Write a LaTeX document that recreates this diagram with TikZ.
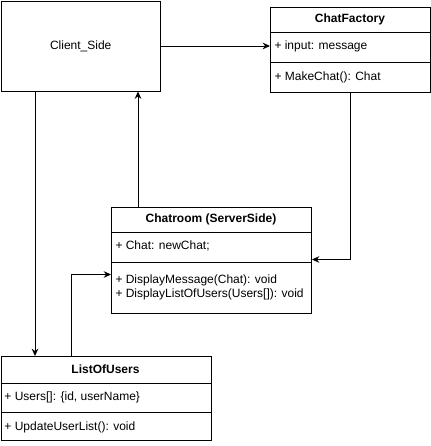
\documentclass[tikz,border=0pt]{standalone}
\usepackage{fontspec}
\setmainfont{Liberation Sans}
\usetikzlibrary{arrows.meta}
\begin{document}
\begin{tikzpicture}[x=0.75pt,y=-0.75pt,line width=0.75pt,
  box/.style={draw,rectangle,inner sep=0pt,anchor=north west},
  ttl/.style={font=\bfseries\fontsize{9}{11}\selectfont,inner sep=0pt},
  txt/.style={font=\fontsize{9}{11}\selectfont,anchor=west,inner sep=0pt,align=left},
  conn/.style={-{Stealth[length=5.5pt,width=5pt]}}]
\useasboundingbox (0,0) rectangle (431,446);
% Client side
\node[box,minimum width={159.5*0.75pt},minimum height={90*0.75pt}] (cs) at (0.5,0.5) {};
\node[font=\fontsize{9}{11}\selectfont,inner sep=0pt] (cst) at (cs.center) {Client\_Side};
% ChatFactory
\node[box,minimum width={160*0.75pt},minimum height={85*0.75pt}] (cf) at (270,7) {};
\draw (270,32) -- (430,32) (270,62) -- (430,62);
\node[ttl] (cft) at (350,19.5) {ChatFactory};
\node[txt] (cfa) at (274,46) {+ input: message};
\node[txt] (cfm) at (274,77) {+ MakeChat(): Chat};
% Chatroom
\node[box,minimum width={200*0.75pt},minimum height={106*0.75pt}] (cr) at (111,207) {};
\draw (111,232) -- (311,232) (111,262) -- (311,262);
\node[ttl] (crt) at (211,219.5) {Chatroom (ServerSide)};
\node[txt] (cra) at (115,246) {+ Chat: newChat;};
\node[txt] (crm1) at (115,280.5) {+ DisplayMessage(Chat): void};
\node[txt] (crm2) at (115,294.5) {+ DisplayListOfUsers(Users[]): void};
% ListOfUsers
\node[box,minimum width={210*0.75pt},minimum height={84*0.75pt}] (lu) at (0.5,356) {};
\draw (0.5,383) -- (210.5,383) (0.5,412) -- (210.5,412);
\node[ttl] (lut) at (105.5,369.5) {ListOfUsers};
\node[txt] (lua) at (4,397.5) {+ Users[]: \{id, userName\}};
\node[txt] (lum) at (4,427.5) {+ UpdateUserList(): void};
% connectors
\draw[conn] (cs.east) -- (cs.east -| cf.west);
\draw[conn] (cf.south) |- ([yshift=0.75pt]cr.east);
\coordinate (crtop) at ([xshift={27*0.75pt}]cr.north west);
\draw[conn] (crtop) -- (crtop |- cs.south);
\coordinate (csbot) at ([xshift={34.5*0.75pt}]cs.south west);
\draw[conn] (csbot) -- (csbot |- lu.north);
\coordinate (lutop) at ([xshift={70.5*0.75pt}]lu.north west);
\draw[conn] (lutop) |- ([yshift={-14*0.75pt}]cr.west);
\end{tikzpicture}
\end{document}
